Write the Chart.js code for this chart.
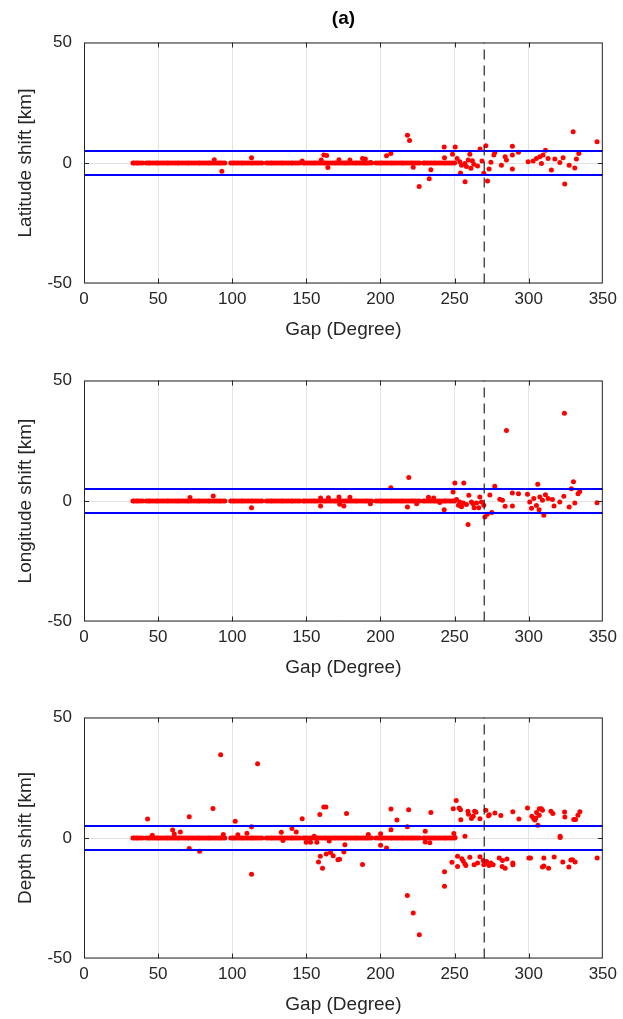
<!DOCTYPE html>
<html>
<head>
<meta charset="utf-8">
<script src="https://cdn.jsdelivr.net/npm/chart.js@4.4.1/dist/chart.umd.min.js"></script>
<style>
  body { margin: 0; background: #fff; overflow: hidden; }
  .panel { position: absolute; left: 0; }
</style>
</head>
<body>
<div class="panel" style="top:0px"><canvas id="lat" width="623" height="345"></canvas></div>
<div class="panel" style="top:338px"><canvas id="lon" width="623" height="345"></canvas></div>
<div class="panel" style="top:675px"><canvas id="dep" width="623" height="345"></canvas></div>
<script>
// axes
const xTicks = [0, 50, 100, 150, 200, 250, 300, 350];
const yTicks = [-50, 0, 50];
const gapCut = 270;     // dashed line
const shiftCut = 5;     // blue lines at +/- 5 km

// events that sit on the zero line in all three panels (gap values, shift ~ 0)
const bandGap = [33, 34, 35.5, 36.5, 38, 39.5, 42, 43.5, 44.5, 46, 47.5, 49, 50, 51.5, 53, 54.5, 56, 57, 58.5, 60, 61.5,
  63, 64, 65.5, 67, 68.5, 70, 71, 72.5, 74, 75.5, 77, 78, 79.5, 81, 82.5, 84, 85, 86.5, 88, 89.5, 91, 92, 93.5, 95,
  99, 100.5, 101.5, 103, 104.5, 106, 107, 108.5, 110, 111.5, 113, 114, 115.5, 117, 118.5, 120,
  123, 124.5, 126, 127, 128.5, 130, 131.5, 133, 134, 135.5, 137, 138.5, 140, 141, 142.5, 144, 145.5,
  148, 149, 150.5, 152, 153.5, 155, 156, 157.5, 159, 160.5, 162, 163, 164.5, 166, 167.5, 169, 170, 171.5, 173, 174.5,
  176, 177, 178.5, 180, 181.5, 183, 184, 185.5, 187, 188.5, 190, 191, 192.5, 194,
  197, 198.5, 200, 201, 202.5, 204, 205.5, 207, 208, 209.5, 211, 212.5, 214, 215, 216.5, 218, 219.5, 221, 222, 223.5, 225, 226.5,
  229, 230, 231.5, 233, 234.5, 236, 237, 238.5, 240, 241.5, 243, 244, 245.5, 247, 248.5, 250];

// [gap, latitude shift]
const latPts = [[218.2, 11.5], [219.6, 9.3], [187.9, 1.9], [204.1, 3.0], [207, 3.9], [222.1, -1.8], [226.1, -9.8],
  [232.9, -6.5], [234, -2.8], [243, 6.6], [250.4, 6.6], [243.2, 2.2], [248.6, 3.6], [254, -4.1], [257.1, -7.8],
  [251.7, 1.9], [253.5, 0.5], [254.7, -0.9], [256.9, -0.2], [259.2, 1.2], [260.3, 3.6], [261, -2.2], [267.2, 5.8],
  [271.1, 7.2], [269.7, -4.3], [272.2, -7.5], [273.3, -2.5], [274.5, 0.3], [276.5, 3.3], [277.1, 4.4], [281.6, -0.9],
  [284.1, 2.6], [285, 1.2], [289, 6.9], [289, 3.3], [289, -2.5], [293.1, 4.5], [299.6, 0.5], [303, 0.8], [305.2, 1.9],
  [307.5, 2.6], [308.6, -0.2], [309.7, 3.3], [311.3, 5.3], [313.1, 1.9], [315.3, -2.9], [317.6, 1.7], [321, 0.2],
  [323.2, 2.2], [324.3, -8.7], [327.3, -0.9], [330, 13.0], [331.1, -2.1], [332.2, 1.7], [333.8, 3.9], [346.1, 8.8],
  [87.9, 1.3], [93, -3.4], [113, 2.2], [147.2, 0.8], [161.8, 3.3], [160, 1.2], [163.7, 3.1], [164.5, -1.9], [172, 1.4],
  [179.4, 1.2], [189.8, 1.7], [193.3, 0.2], [263, -0.5], [265.5, -1.2], [268.5, 0.8], [258, -1.5], [262, 0.9]];

// [gap, longitude shift]
const lonPts = [[324.1, 36.4], [285, 29.3], [219.1, 9.7], [207, 5.5], [250.2, 7.5], [256.2, 7.5], [249, 3.7], [243, -3.6],
  [259.1, -9.7], [218.2, -2.5], [259.6, 2.4], [267, 1.7], [263.2, -2.8], [266.3, -2.8], [254.7, -2.4], [270.4, -6.6],
  [272, -5.5], [275.1, -4.8], [273.8, 2.5], [277.1, 6.1], [280.5, 0.7], [282.3, 0.3], [284.1, -2.2], [289, 3.3],
  [289, -2.1], [293.1, 3.0], [299.2, 2.8], [300.7, -0.4], [301.9, -3.0], [303.4, 1.0], [306.1, 6.9], [305.2, -1.9],
  [307.5, 1.7], [309.3, 0.3], [307, -3.6], [310.2, -5.9], [311.3, 2.6], [313.1, 1.0], [316, 0.6], [317.1, -2.1],
  [321, -0.4], [323.7, 2.0], [327.3, -2.5], [328.8, 5.1], [330.2, 8.0], [331.1, -0.8], [333.3, 3.0], [334.4, 3.9],
  [346.1, -0.7], [251.3, 0.6], [253.5, -0.4], [252.6, -1.8], [255.8, -0.8], [258, -1.5], [261.4, -0.4], [262.5, -1.1],
  [264.8, -0.8], [268.1, -0.4], [269.7, -1.8], [71.5, 1.5], [87.2, 2.1], [113, -2.8], [159.6, 1.2], [159.6, -2.1],
  [164.9, 1.4], [172, 1.7], [175.3, -2.1], [172.5, -1.4], [179.4, 1.6], [193.2, -1.1], [224.4, -1.1], [232.4, 1.6],
  [235.9, 1.2], [240, -0.6]];

// [gap, depth shift]
const depPts = [[92.2, 34.5], [117.1, 30.8], [87, 12.2], [42.9, 7.9], [71, 8.8], [59.8, 3.3], [60.9, 1.7], [65, 2.5],
  [46.1, 1.1], [71, -4.4], [78, -5.5], [94, 1.5], [102, 7.0], [103.8, 1.3], [109.9, 2.0], [113, 4.7], [113, -15.0],
  [133.1, 2.4], [134.2, -1.0], [140.3, 3.9], [143.2, 2.5], [147.2, 8.0], [149.9, -1.8], [152.8, -1.8], [155.3, 0.7],
  [157.1, -1.8], [159.1, 9.7], [161.8, 12.9], [163.2, 12.9], [158.2, -10], [159.4, -7.6], [160.9, -12.6], [163.4, -6.6],
  [166.3, -6.0], [168.1, -7.4], [165.4, -1.2], [171.3, -9.0], [172.4, -8.8], [175.3, -5.8], [176, -2.8], [177.1, 10.2],
  [187.9, -11.0], [200.1, -3.0], [204.1, -4.2], [200.1, 1.8], [207.1, 12.0], [211.1, 7.5], [207.1, 3.4], [219, 11.7],
  [218.1, 4.7], [218.1, -23.9], [222.1, -31.1], [226.2, -40.1], [234, 10.6], [230.2, 2.8], [230.2, -1.7], [233.3, -2.0],
  [243.2, -14.0], [243.2, -20.0], [248.2, -10.1], [249.1, 12.1], [251.1, 15.6], [253.1, 12.4], [254, 11.7], [254.2, 7.6],
  [249.5, 1.9], [250.3, 0.2], [257, 0.7], [252, -7.6], [252, -11.8], [254.9, -8.6], [255.8, -9.5], [256.9, -10.7],
  [257.6, -11.4], [259, 11.1], [259.4, 9.9], [260.3, -8.0], [261.4, 8.1], [262.6, 9.0], [263.5, 11.1], [264.4, 10.7],
  [263.2, -11.1], [265.5, -10.4], [267.1, 8.0], [267.1, -7.8], [269.3, -9.3], [270.4, -10.7], [271.6, -9.7],
  [273.3, -11.4], [274.5, -10.4], [276, -11.1], [269.7, -11.1], [271.1, 11.5], [272.9, 9.2], [273.4, 9.6], [277.2, 10.4],
  [280.1, -8.3], [281.2, 9.3], [282.1, -11.8], [284.1, -12.5], [282.3, -9.3], [285.3, -8.7], [289.3, 10.9],
  [289.3, -10.4], [289.3, -11.1], [293.4, 7.9], [299.2, 12.4], [300.1, -8.3], [301.2, -8.3], [302.1, 9.0], [303.3, 8.1],
  [304.2, 7.5], [304.8, 8.3], [305.3, 10.6], [307.1, 12.1], [308.6, 12.1], [306.2, 5.3], [307.1, 9.4], [309.3, 11.5],
  [310.2, -8.3], [309.3, -12.0], [310.2, -11.6], [313.4, -12.5], [315, 11.1], [316.3, 10.2], [317.2, -7.9], [321.2, 0.7],
  [321.2, 0.2], [323, -10.0], [324.2, 10.8], [324.4, 8.7], [327.1, -12.0], [328.4, -9.1], [329.6, -9.0], [330.4, 7.7],
  [331.6, 7.7], [331.3, -10.0], [333.2, 9.4], [334.5, 10.9], [346.2, -8.3], [191.8, 1.5]];

const FONT = "'Liberation Sans', Arial, Helvetica, sans-serif";
const INK = '#262626';

// box around the axes with MATLAB-style inward ticks
const frame = {
  id: 'frame',
  afterDraw(chart) {
    const { ctx, chartArea: a, scales } = chart;
    ctx.save();
    ctx.strokeStyle = INK;
    ctx.lineWidth = 1;
    ctx.strokeRect(a.left + 0.5, a.top + 0.5, a.width - 1, a.height - 1);
    ctx.beginPath();
    xTicks.slice(1, -1).forEach(v => {
      const px = Math.round(scales.x.getPixelForValue(v)) + 0.5;
      ctx.moveTo(px, a.top); ctx.lineTo(px, a.top + 5);
      ctx.moveTo(px, a.bottom); ctx.lineTo(px, a.bottom - 5);
    });
    yTicks.slice(1, -1).forEach(v => {
      const py = Math.round(scales.y.getPixelForValue(v)) + 0.5;
      ctx.moveTo(a.left, py); ctx.lineTo(a.left + 5, py);
      ctx.moveTo(a.right, py); ctx.lineTo(a.right - 5, py);
    });
    ctx.stroke();
    ctx.restore();
  }
};

function makePanel(id, yLabel, pts, title) {
  const dots = bandGap.map(g => ({ x: g, y: 0 })).concat(pts.map(p => ({ x: p[0], y: p[1] })));
  new Chart(document.getElementById(id), {
    type: 'scatter',
    data: {
      datasets: [
        { data: dots, backgroundColor: '#ff0000', borderWidth: 0, pointRadius: 2.5, order: 3 },
        { data: [{ x: 0, y: shiftCut }, { x: 350, y: shiftCut }], showLine: true, borderColor: '#0000ff',
          borderWidth: 2, pointRadius: 0, order: 2 },
        { data: [{ x: 0, y: -shiftCut }, { x: 350, y: -shiftCut }], showLine: true, borderColor: '#0000ff',
          borderWidth: 2, pointRadius: 0, order: 2 },
        { data: [{ x: gapCut, y: -50 }, { x: gapCut, y: 50 }], showLine: true, borderColor: INK,
          borderWidth: 1.2, borderDash: [10, 6], pointRadius: 0, order: 1 }
      ]
    },
    options: {
      responsive: false,
      animation: false,
      events: [],
      layout: { padding: { left: 0, right: 20, top: title ? 0 : 42.5, bottom: 0 } },
      plugins: {
        legend: { display: false },
        tooltip: { enabled: false },
        title: {
          display: !!title, text: title, fullSize: false, color: '#000',
          font: { family: FONT, size: 19, weight: 'bold' },
          padding: { top: 7, bottom: 12.7 }
        }
      },
      scales: {
        x: {
          type: 'linear', min: 0, max: 350,
          afterBuildTicks: s => { s.ticks = xTicks.map(v => ({ value: v })); },
          afterFit: s => { s.height = 61.5; },
          grid: { color: '#e3e3e3', drawTicks: false },
          border: { display: false },
          ticks: { color: INK, padding: 6, maxRotation: 0, font: { family: FONT, size: 17 } },
          title: { display: true, text: 'Gap (Degree)', color: INK, padding: { top: 0, bottom: 4 },
            font: { family: FONT, size: 19 } }
        },
        y: {
          min: -50, max: 50,
          afterBuildTicks: s => { s.ticks = yTicks.map(v => ({ value: v })); },
          afterFit: s => { s.width = 84; },
          grid: { color: '#e3e3e3', drawTicks: false },
          border: { display: false },
          ticks: { color: INK, padding: 12, font: { family: FONT, size: 17 } },
          title: { display: true, text: yLabel, color: INK, padding: { top: 14, bottom: 0 },
            font: { family: FONT, size: 19 } }
        }
      }
    },
    plugins: [frame]
  });
}

makePanel('lat', 'Latitude shift [km]', latPts, '(a)');
makePanel('lon', 'Longitude shift [km]', lonPts, '');
makePanel('dep', 'Depth shift [km]', depPts, '');
</script>
</body>
</html>
